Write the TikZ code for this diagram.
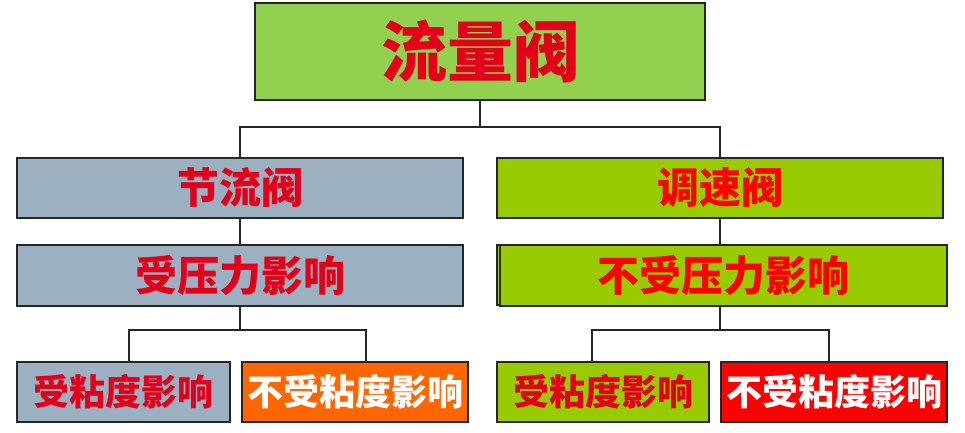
\documentclass[tikz,border=0pt]{standalone}
\usepackage{fontspec}
\newfontfamily\cjk{Noto Sans CJK SC}
\usetikzlibrary{calc}
\definecolor{topgreen}{HTML}{92D050}
\definecolor{bluegrey}{HTML}{9BB0C0}
\definecolor{limegreen}{HTML}{99CC00}
\definecolor{hotorange}{HTML}{FF6600}
\definecolor{boxred}{HTML}{FF0000}
\definecolor{inkred}{HTML}{E2001A}
\tikzset{
  valvebox/.style={draw=black!85, line width=1.2pt, rectangle, inner sep=0pt, font=\cjk\bfseries},
  bus/.style={draw=black!85, line width=2.3pt}
}

\begin{document}
\begin{tikzpicture}[x=1pt,y=-1pt]
			%%%%% START %%%%%
			\useasboundingbox (0,0) rectangle (965,432);
			
			\node[valvebox, fill=topgreen, minimum width=450, minimum height=97, text=inkred, font=\cjk\bfseries\fontsize{66}{66}\selectfont] (flow) at (480, 51.5) {流量阀};
			
			\node[valvebox, fill=bluegrey, minimum width=446, minimum height=60, text=inkred, font=\cjk\bfseries\fontsize{42}{42}\selectfont] (throttle) at (240, 188) {节流阀};
			\node[valvebox, fill=bluegrey, minimum width=446, minimum height=61, text=inkred, font=\cjk\bfseries\fontsize{42}{42}\selectfont] (pdep) at (240, 275.5) {受压力影响};
			
			\node[valvebox, fill=limegreen, minimum width=446, minimum height=60, text=boxred, font=\cjk\bfseries\fontsize{42}{42}\selectfont] (speed) at (720, 188) {调速阀};
			\draw[line width=1.2pt, draw=black!85, fill=limegreen] (497, 245) rectangle (944, 305);
			\node[valvebox, fill=limegreen, minimum width=447, minimum height=61, text=boxred, font=\cjk\bfseries\fontsize{42}{42}\selectfont] (pfree) at (723.5, 275.5) {不受压力影响};
			
			\node[valvebox, fill=bluegrey, minimum width=213, minimum height=60, text=inkred, font=\cjk\bfseries\fontsize{36}{36}\selectfont] (tvdep) at (123.5, 392) {受粘度影响};
			\node[valvebox, fill=hotorange, minimum width=226, minimum height=60, text=white, font=\cjk\bfseries\fontsize{36}{36}\selectfont] (tvfree) at (355, 392) {不受粘度影响};
			\node[valvebox, fill=limegreen, minimum width=212, minimum height=60, text=inkred, font=\cjk\bfseries\fontsize{36}{36}\selectfont] (svdep) at (603, 392) {受粘度影响};
			\node[valvebox, fill=boxred, minimum width=226, minimum height=60, text=white, font=\cjk\bfseries\fontsize{36}{36}\selectfont] (svfree) at (834, 392) {不受粘度影响};
			
			% tree lines
			\coordinate (topbus) at (480, 127);
			\coordinate (lbus) at (240, 330);
			\coordinate (rbus) at (720, 330);
			\coordinate (lA) at (129, 330);
			\coordinate (lB) at (366, 330);
			\coordinate (rA) at (592, 330);
			\coordinate (rB) at (829, 330);
			
			\draw[bus] (flow.south) -- (topbus);
			\draw[bus] (throttle.north) |- (topbus) -| (speed.north);
			\draw[bus] (throttle.south) -- (pdep.north);
			\draw[bus] (speed.south) -- (speed.south |- pfree.north);
			\draw[bus] (pdep.south) -- (lbus);
			\draw[bus] (pfree.south -| rbus) -- (rbus);
			\draw[bus] (lA |- tvdep.north) -- (lA) -- (lB) -- (lB |- tvfree.north);
			\draw[bus] (rA |- svdep.north) -- (rA) -- (rB) -- (rB |- svfree.north);
			
			%%%%% END %%%%%
\end{tikzpicture}
\end{document}
